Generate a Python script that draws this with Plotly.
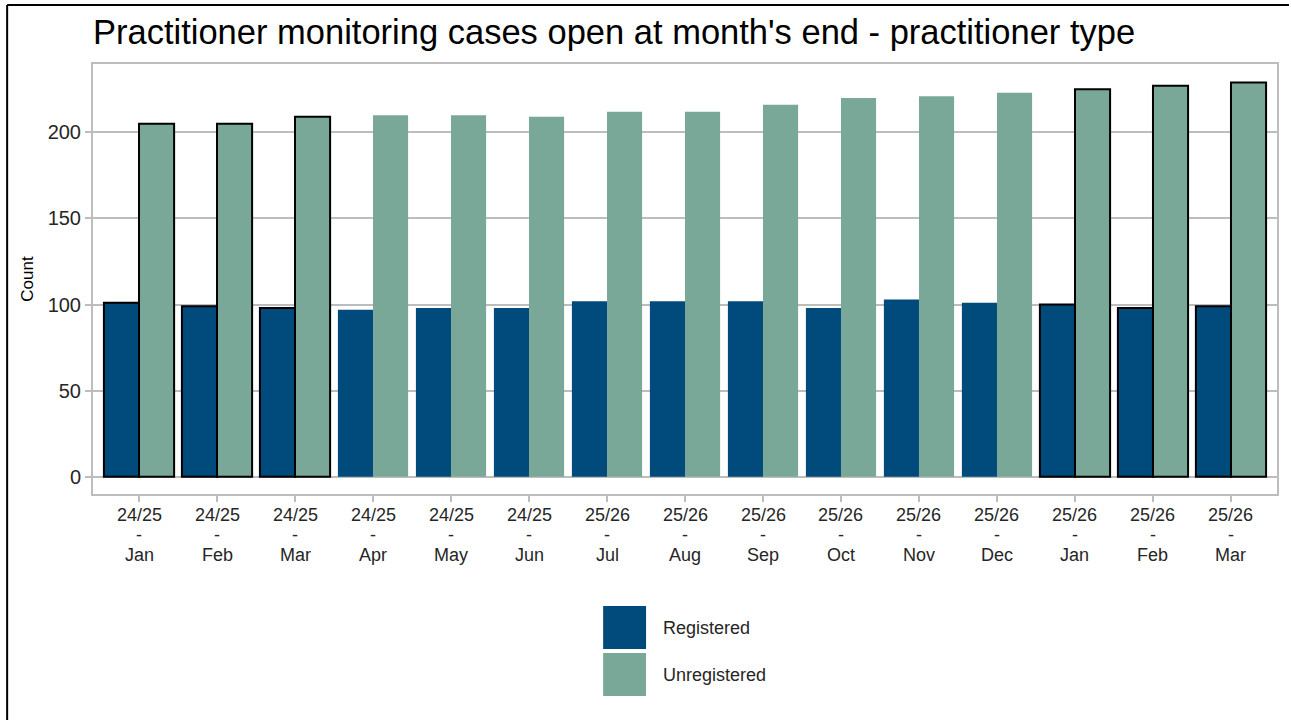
import plotly.graph_objects as go

# Monthly caseload data
years = ["24/25"] * 6 + ["25/26"] * 9
months = ["Jan", "Feb", "Mar", "Apr", "May", "Jun", "Jul", "Aug", "Sep",
          "Oct", "Nov", "Dec", "Jan", "Feb", "Mar"]
registered = [101, 99, 98, 97, 98, 98, 102, 102, 102, 98, 103, 101, 100, 98, 99]
unregistered = [205, 205, 209, 210, 210, 209, 212, 212, 216, 220, 221, 223, 225, 227, 229]
highlighted = [True, True, True, False, False, False, False, False, False,
               False, False, False, True, True, True]
y_ticks = [0, 50, 100, 150, 200]

series_names = ["Registered", "Unregistered"]
series_colors = ["#004B7C", "#7AA898"]

W, H = 1291, 720
ML, MR, MT, MB = 93, 12, 64, 226
PW, PH = W - ML - MR, H - MT - MB


def px_x(x):
    return (x - ML) / PW


def px_y(y):
    return (H - MB - y) / PH


x_idx = list(range(len(months)))
edge_w = [2 if h else 0 for h in highlighted]

fig = go.Figure()
for name, vals, col in zip(series_names, [registered, unregistered], series_colors):
    fig.add_trace(go.Bar(
        x=x_idx, y=vals, name=name,
        marker=dict(color=col, line=dict(color="#000000", width=edge_w)),
        showlegend=False,
    ))

font_family = "Liberation Sans, Arial, sans-serif"
grid_col = "#BDBDBD"
label_col = "#262626"

fig.update_layout(
    width=W, height=H,
    margin=dict(l=ML, r=MR, t=MT, b=MB),
    paper_bgcolor="white", plot_bgcolor="white",
    barmode="group", bargap=0.1, bargroupgap=0,
    font=dict(family=font_family, color=label_col),
    title=dict(
        text="Practitioner monitoring cases open at month's end - practitioner type",
        x=px_x(93), xref="paper", xanchor="left",
        y=1 - 32 / H, yref="container", yanchor="middle",
        font=dict(size=34.5, color="#000000", family=font_family),
    ),
    xaxis=dict(
        range=[-0.59, 14.59], tickmode="array", tickvals=x_idx,
        showticklabels=False,
        showgrid=False, zeroline=False,
        showline=True, mirror=True, linecolor=grid_col, linewidth=2,
        ticks="outside", ticklen=6, tickcolor=grid_col, tickwidth=2,
    ),
    yaxis=dict(
        range=[-10, 239.7], tickvals=y_ticks,
        showgrid=True, gridcolor=grid_col, gridwidth=2, zeroline=False,
        showline=True, mirror=True, linecolor=grid_col, linewidth=2,
        ticks="outside", ticklen=6, tickcolor=grid_col, tickwidth=2,
        tickfont=dict(size=20, color=label_col),
        title=dict(text="Count", font=dict(size=17, color="#000000"), standoff=10),
    ),
)

shapes = []
annotations = []

# Category labels: financial year, separator, month on three lines
for i, (yr, mo) in enumerate(zip(years, months)):
    for line_text, ypix in zip([yr, "-", mo], [515, 535, 555]):
        annotations.append(dict(xref="x", yref="paper", x=i, y=px_y(ypix),
                                text=line_text, showarrow=False,
                                xanchor="center", yanchor="middle",
                                font=dict(size=18, color=label_col)))

# Outer frame along top and left edges
shapes.append(dict(type="line", xref="paper", yref="paper",
                   x0=px_x(7), x1=px_x(W), y0=px_y(5), y1=px_y(5),
                   line=dict(color="#000000", width=2)))
shapes.append(dict(type="line", xref="paper", yref="paper",
                   x0=px_x(7), x1=px_x(7), y0=px_y(5), y1=px_y(H),
                   line=dict(color="#000000", width=2)))

# Legend keys
key_tops = [606, 653]
for name, col, top in zip(series_names, series_colors, key_tops):
    shapes.append(dict(type="rect", xref="paper", yref="paper",
                       x0=px_x(604), x1=px_x(647), y0=px_y(top + 43), y1=px_y(top),
                       fillcolor=col, line=dict(width=0)))
    annotations.append(dict(xref="paper", yref="paper", x=px_x(662), y=px_y(top + 22),
                            text=name, showarrow=False, xanchor="left", yanchor="middle",
                            font=dict(size=18, color=label_col)))

fig.update_layout(shapes=shapes, annotations=annotations)

fig.write_html("out.html")
